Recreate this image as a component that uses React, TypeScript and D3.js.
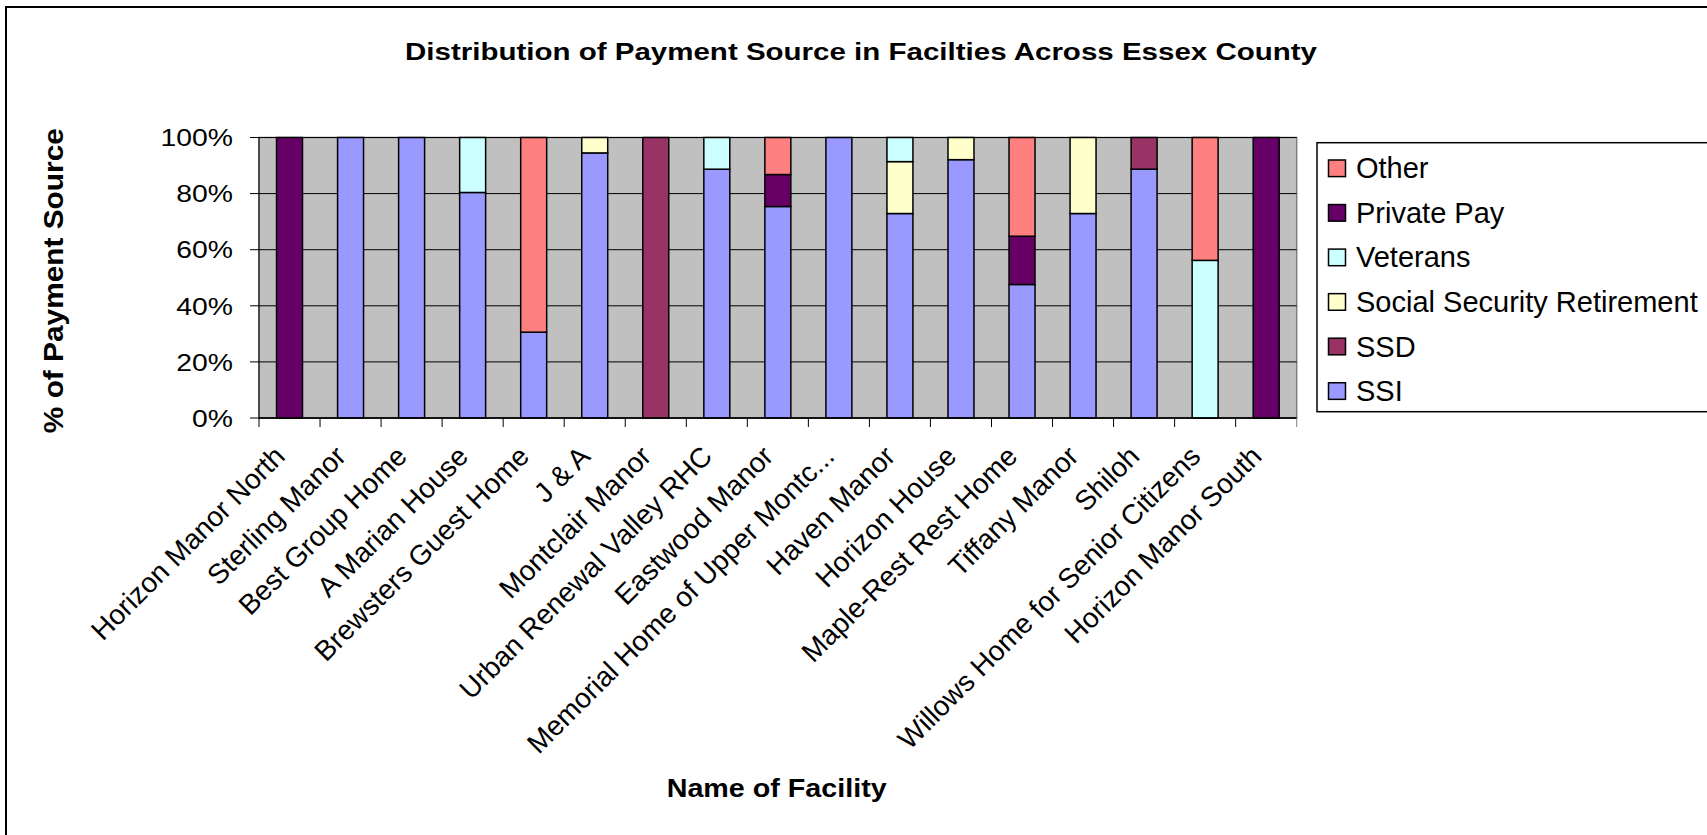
import React from "react";
import * as d3 from "d3";

const title = "Distribution of Payment Source in Facilties Across Essex County";
const yAxisTitle = "% of Payment Source";
const xAxisTitle = "Name of Facility";

const categories = [
  "Horizon Manor North",
  "Sterling Manor",
  "Best Group Home",
  "A Marian House",
  "Brewsters Guest Home",
  "J & A",
  "Montclair Manor",
  "Urban Renewal Valley RHC",
  "Eastwood Manor",
  "Memorial Home of Upper Montc...",
  "Haven Manor",
  "Horizon House",
  "Maple-Rest Rest Home",
  "Tiffany Manor",
  "Shiloh",
  "Willows Home for Senior Citizens",
  "Horizon Manor South",
];

// percent values, stacked bottom -> top
const ssi = [0, 100, 100, 80.4, 30.6, 94.5, 0, 88.7, 75.4, 100, 72.9, 92.1, 47.6, 72.9, 88.7, 0, 0];
const ssd = [0, 0, 0, 0, 0, 0, 100, 0, 0, 0, 0, 0, 0, 0, 11.3, 0, 0];
const ssr = [0, 0, 0, 0, 0, 5.5, 0, 0, 0, 0, 18.5, 7.9, 0, 27.1, 0, 0, 0];
const veterans = [0, 0, 0, 19.6, 0, 0, 0, 11.3, 0, 0, 8.6, 0, 0, 0, 0, 56.2, 0];
const privatePay = [100, 0, 0, 0, 0, 0, 0, 0, 11.4, 0, 0, 0, 17.2, 0, 0, 0, 100];
const other = [0, 0, 0, 0, 69.4, 0, 0, 0, 13.2, 0, 0, 0, 35.2, 0, 0, 43.8, 0];

const seriesNames = ["SSI", "SSD", "Social Security Retirement", "Veterans", "Private Pay", "Other"];
const seriesValues = [ssi, ssd, ssr, veterans, privatePay, other];
const seriesColors = ["#9999FF", "#993366", "#FFFFCC", "#CCFFFF", "#660066", "#FF8080"];

const yTicks = [0, 20, 40, 60, 80, 100];

const W = 1707;
const H = 835;
const plot = { left: 259, right: 1296.7, top: 137.5, bottom: 418 };
const FONT = "'Liberation Sans', Arial, sans-serif";

export default function App() {
  const rows = categories.map((c, i) => {
    const r: any = { cat: c };
    seriesNames.forEach((s, k) => (r[s] = seriesValues[k][i]));
    return r;
  });
  const stacked = d3.stack().keys(seriesNames)(rows);

  const x = d3.scaleBand().domain(categories).range([plot.left, plot.right]).padding(0);
  const y = d3.scaleLinear().domain([0, 100]).range([plot.bottom, plot.top]);
  const step = x.step();
  const barW = step / 2.35;

  const legendItems = seriesNames.map((n, i) => ({ name: n, color: seriesColors[i] })).reverse();

  return (
    <svg
      width={W}
      height={H}
      style={{ position: "absolute", left: 0, top: 0, background: "#fff" }}
      fontFamily={FONT}
    >
      <rect x={0} y={0} width={W} height={H} fill="#fff" />
      {/* outer chart border */}
      <rect x={6} y={7} width={W + 20} height={H + 20} fill="none" stroke="#000" strokeWidth={2} />

      {/* title */}
      <text
        x={861}
        y={59.5}
        textAnchor="middle"
        fontWeight="bold"
        fontSize={23.5}
        textLength={912}
        lengthAdjust="spacingAndGlyphs"
      >
        {title}
      </text>

      {/* plot area */}
      <rect
        x={plot.left}
        y={plot.top}
        width={plot.right - plot.left}
        height={plot.bottom - plot.top}
        fill="#C0C0C0"
        stroke="#808080"
        strokeWidth={1.5}
      />
      {/* gridlines */}
      {yTicks.map((t) => (
        <line key={"g" + t} x1={plot.left} x2={plot.right} y1={y(t)} y2={y(t)} stroke="#000" strokeWidth={1} />
      ))}

      {/* bars */}
      {stacked.map((layer, k) =>
        layer.map((d, i) => {
          const v = d[1] - d[0];
          if (v <= 0) return null;
          const cx = (x(categories[i]) as number) + step / 2;
          return (
            <rect
              key={k + "-" + i}
              x={cx - barW / 2}
              y={y(d[1])}
              width={barW}
              height={y(d[0]) - y(d[1])}
              fill={seriesColors[k]}
              stroke="#000"
              strokeWidth={1.5}
            />
          );
        })
      )}

      {/* axes */}
      <line x1={plot.left} x2={plot.left} y1={plot.top} y2={plot.bottom} stroke="#000" strokeWidth={1} />
      <line x1={plot.left} x2={plot.right} y1={plot.bottom} y2={plot.bottom} stroke="#000" strokeWidth={1.5} />
      {yTicks.map((t) => (
        <g key={"yt" + t}>
          <line x1={plot.left - 9} x2={plot.left} y1={y(t)} y2={y(t)} stroke="#000" strokeWidth={1} />
          <text
            transform={`translate(233,${y(t) + 8.7}) scale(1.18,1)`}
            textAnchor="end"
            fontSize={24}
          >
            {t + "%"}
          </text>
        </g>
      ))}
      {categories.map((c, i) => (
        <line
          key={"xt" + i}
          x1={plot.left + step * i}
          x2={plot.left + step * i}
          y1={plot.bottom}
          y2={plot.bottom + 9}
          stroke="#000"
          strokeWidth={1}
        />
      ))}
      <line x1={plot.right} x2={plot.right} y1={plot.bottom} y2={plot.bottom + 9} stroke="#808080" strokeWidth={1} />

      {/* x labels */}
      {categories.map((c, i) => {
        const cx = (x(c) as number) + step / 2;
        return (
          <text
            key={"xl" + i}
            transform={`translate(${cx - 3},458) rotate(-45)`}
            textAnchor="end"
            fontSize={28}
          >
            {c}
          </text>
        );
      })}

      {/* axis titles */}
      <text
        transform={`translate(62.7,280.7) rotate(-90)`}
        textAnchor="middle"
        fontWeight="bold"
        fontSize={27}
        textLength={305}
        lengthAdjust="spacingAndGlyphs"
      >
        {yAxisTitle}
      </text>
      <text
        x={776.7}
        y={796.7}
        textAnchor="middle"
        fontWeight="bold"
        fontSize={25.6}
        textLength={220}
        lengthAdjust="spacingAndGlyphs"
      >
        {xAxisTitle}
      </text>

      {/* legend */}
      <rect x={1317} y={142.7} width={420} height={269} fill="#fff" stroke="#000" strokeWidth={1.5} />
      {legendItems.map((it, i) => {
        const cy = 168.3 + i * 44.55;
        return (
          <g key={"lg" + i}>
            <rect x={1328.5} y={cy - 8.3} width={17} height={16.6} fill={it.color} stroke="#000" strokeWidth={1.5} />
            <text x={1356} y={cy + 10} fontSize={29}>
              {it.name}
            </text>
          </g>
        );
      })}
    </svg>
  );
}
